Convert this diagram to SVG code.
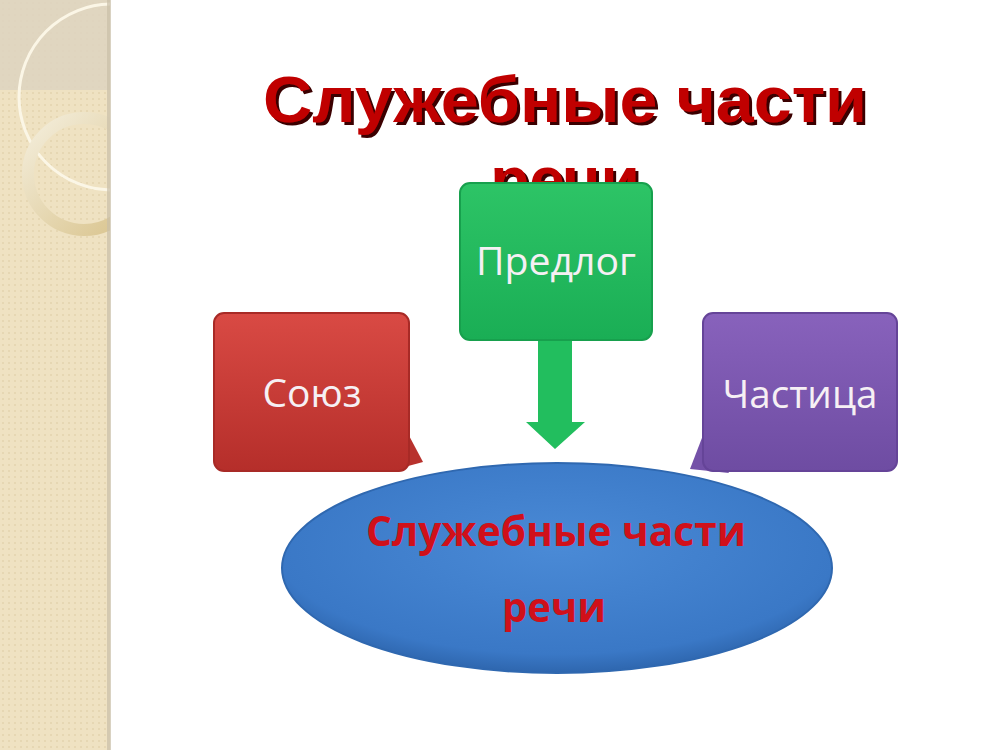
<svg xmlns="http://www.w3.org/2000/svg" width="1000" height="750" viewBox="0 0 1000 750">
<defs>
<style>
.title{font-family:"Liberation Sans",Arial,sans-serif;font-weight:bold;font-size:64px;text-anchor:middle;fill:#C00000}
.lbl{font-family:"Open Sans","Noto Sans",sans-serif;font-size:38px;fill:#F6F0F4;text-anchor:middle}
.etxt{font-family:"Open Sans","Noto Sans",sans-serif;font-weight:bold;font-size:42px;fill:#D0101A;text-anchor:middle}
</style>
<filter id="shadow" x="-5%" y="-20%" width="110%" height="140%"><feDropShadow dx="3" dy="3" stdDeviation="0.6" flood-color="#3A0505" flood-opacity="1"/></filter>
<clipPath id="panel"><rect x="0" y="0" width="110" height="750"/></clipPath>
<linearGradient id="gRed" x1="0" y1="0" x2="0" y2="1"><stop offset="0" stop-color="#D94A44"/><stop offset="1" stop-color="#B52E2A"/></linearGradient>
<linearGradient id="gGreen" x1="0" y1="0" x2="0" y2="1"><stop offset="0" stop-color="#2DC466"/><stop offset="1" stop-color="#1AAE55"/></linearGradient>
<linearGradient id="gPurple" x1="0" y1="0" x2="0" y2="1"><stop offset="0" stop-color="#8862BC"/><stop offset="1" stop-color="#6E4CA2"/></linearGradient>
<radialGradient id="gBlue" cx="0.5" cy="0.4" r="0.6"><stop offset="0" stop-color="#4A8AD6"/><stop offset="0.85" stop-color="#3A78C6"/><stop offset="1" stop-color="#2E66AE"/></radialGradient>
<linearGradient id="gRing" x1="0" y1="0" x2="1" y2="1"><stop offset="0" stop-color="#F4EEDC"/><stop offset="1" stop-color="#D8C28A"/></linearGradient>
<pattern id="dots" width="6" height="6" patternUnits="userSpaceOnUse"><rect width="6" height="6" fill="#EFE2C2"/><circle cx="3" cy="3" r="1" fill="#E4D4AE"/></pattern>
</defs>
<rect width="1000" height="750" fill="#FFFFFF"/>
<g id="sidebar">
<g clip-path="url(#panel)">
<rect x="0" y="0" width="110" height="750" fill="url(#dots)"/>
<rect x="0" y="0" width="110" height="90" fill="#DDD4C0" opacity="0.85"/>
<circle cx="112" cy="97" r="93" fill="none" stroke="#FBF6E6" stroke-width="3"/>
<circle cx="84" cy="174" r="56" fill="none" stroke="url(#gRing)" stroke-width="12"/>
</g>
<rect x="107" y="0" width="4" height="750" fill="#C9BFA8" opacity="0.7"/>
</g>
<g id="title" filter="url(#shadow)">
<text class="title" x="565" y="122" textLength="604" lengthAdjust="spacingAndGlyphs">Служебные части</text>
<text class="title" x="565" y="202">речи</text>
</g>
<g id="connectors">
<polygon points="538,338 572,338 572,422 585,422 555,449 526,422 538,422" fill="#22BE5E"/>
<polygon points="406,430 423,462 386,472" fill="#B8322D"/>
<polygon points="705,430 690,469 729,473" fill="#7451A8"/>
</g>
<g id="node-predlog">
<rect x="460" y="183" width="192" height="157" rx="10" fill="url(#gGreen)" stroke="#17A04D" stroke-width="2"/>
<text class="lbl" x="556" y="275" textLength="160" lengthAdjust="spacingAndGlyphs">Предлог</text>
</g>
<g id="node-soyuz">
<rect x="214" y="313" width="195" height="158" rx="10" fill="url(#gRed)" stroke="#A82A26" stroke-width="2"/>
<text class="lbl" x="312" y="407" textLength="99" lengthAdjust="spacingAndGlyphs">Союз</text>
</g>
<g id="node-chastitsa">
<rect x="703" y="313" width="194" height="158" rx="10" fill="url(#gPurple)" stroke="#654498" stroke-width="2"/>
<text class="lbl" x="800" y="408" textLength="155" lengthAdjust="spacingAndGlyphs">Частица</text>
</g>
<g id="node-center">
<ellipse cx="557" cy="568" rx="275" ry="105" fill="url(#gBlue)" stroke="#2F68B0" stroke-width="2"/>
<text class="etxt" x="556" y="546" textLength="380" lengthAdjust="spacingAndGlyphs">Служебные части</text>
<text class="etxt" x="554" y="622" textLength="104" lengthAdjust="spacingAndGlyphs">речи</text>
</g>
</svg>
